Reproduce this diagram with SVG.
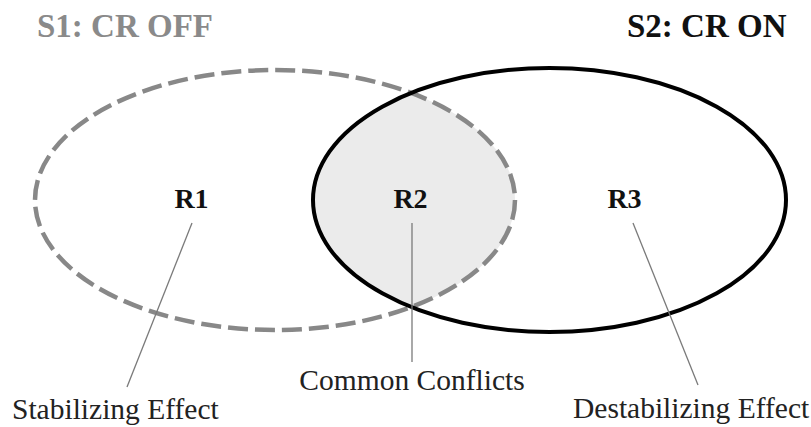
<svg xmlns="http://www.w3.org/2000/svg" width="811" height="427" viewBox="0 0 811 427">
  <style>
    .title { font-family: "Liberation Serif", "Times New Roman", serif; font-weight: bold; font-size: 33px; }
    .region { font-family: "Liberation Serif", "Times New Roman", serif; font-weight: bold; font-size: 28px; fill: #111; text-anchor: middle; }
    .caption { font-family: "Liberation Serif", "Times New Roman", serif; font-size: 29.5px; fill: #222; }
    .leader { stroke: #7a7a7a; stroke-width: 1.3; fill: none; }
  </style>
  <defs>
    <clipPath id="s1-area">
      <ellipse cx="275" cy="200" rx="240" ry="130"/>
    </clipPath>
  </defs>
  <rect width="811" height="427" fill="#ffffff"/>

  <!-- shared region of both sets -->
  <g id="overlap">
    <ellipse cx="549.5" cy="200" rx="236.5" ry="132" fill="#ebebeb" clip-path="url(#s1-area)"/>
  </g>

  <!-- set S1: dashed outline -->
  <g id="set-s1">
    <ellipse cx="275" cy="200" rx="240" ry="130" fill="none" stroke="#888888" stroke-width="4.5" stroke-dasharray="20 7"/>
    <text class="title" x="37" y="37" fill="#8a8a8a">S1: CR OFF</text>
  </g>

  <!-- set S2: solid outline -->
  <g id="set-s2">
    <ellipse cx="549.5" cy="200" rx="236.5" ry="132" fill="none" stroke="#000000" stroke-width="4"/>
    <text class="title" x="627" y="37" fill="#111111">S2: CR ON</text>
  </g>

  <!-- leader lines from regions to captions -->
  <g id="connectors">
    <line class="leader" x1="192" y1="223" x2="127" y2="387"/>
    <line class="leader" x1="412" y1="223" x2="412" y2="362"/>
    <line class="leader" x1="633" y1="223" x2="698" y2="385"/>
  </g>

  <g id="r1">
    <text class="region" x="191.5" y="208">R1</text>
  </g>
  <g id="r2">
    <text class="region" x="410.5" y="208">R2</text>
  </g>
  <g id="r3">
    <text class="region" x="624.5" y="208">R3</text>
  </g>

  <g id="label-stabilizing">
    <text class="caption" x="12" y="419">Stabilizing Effect</text>
  </g>
  <g id="label-common">
    <text class="caption" x="412" y="390" text-anchor="middle">Common Conflicts</text>
  </g>
  <g id="label-destabilizing">
    <text class="caption" x="573" y="418">Destabilizing Effect</text>
  </g>
</svg>
